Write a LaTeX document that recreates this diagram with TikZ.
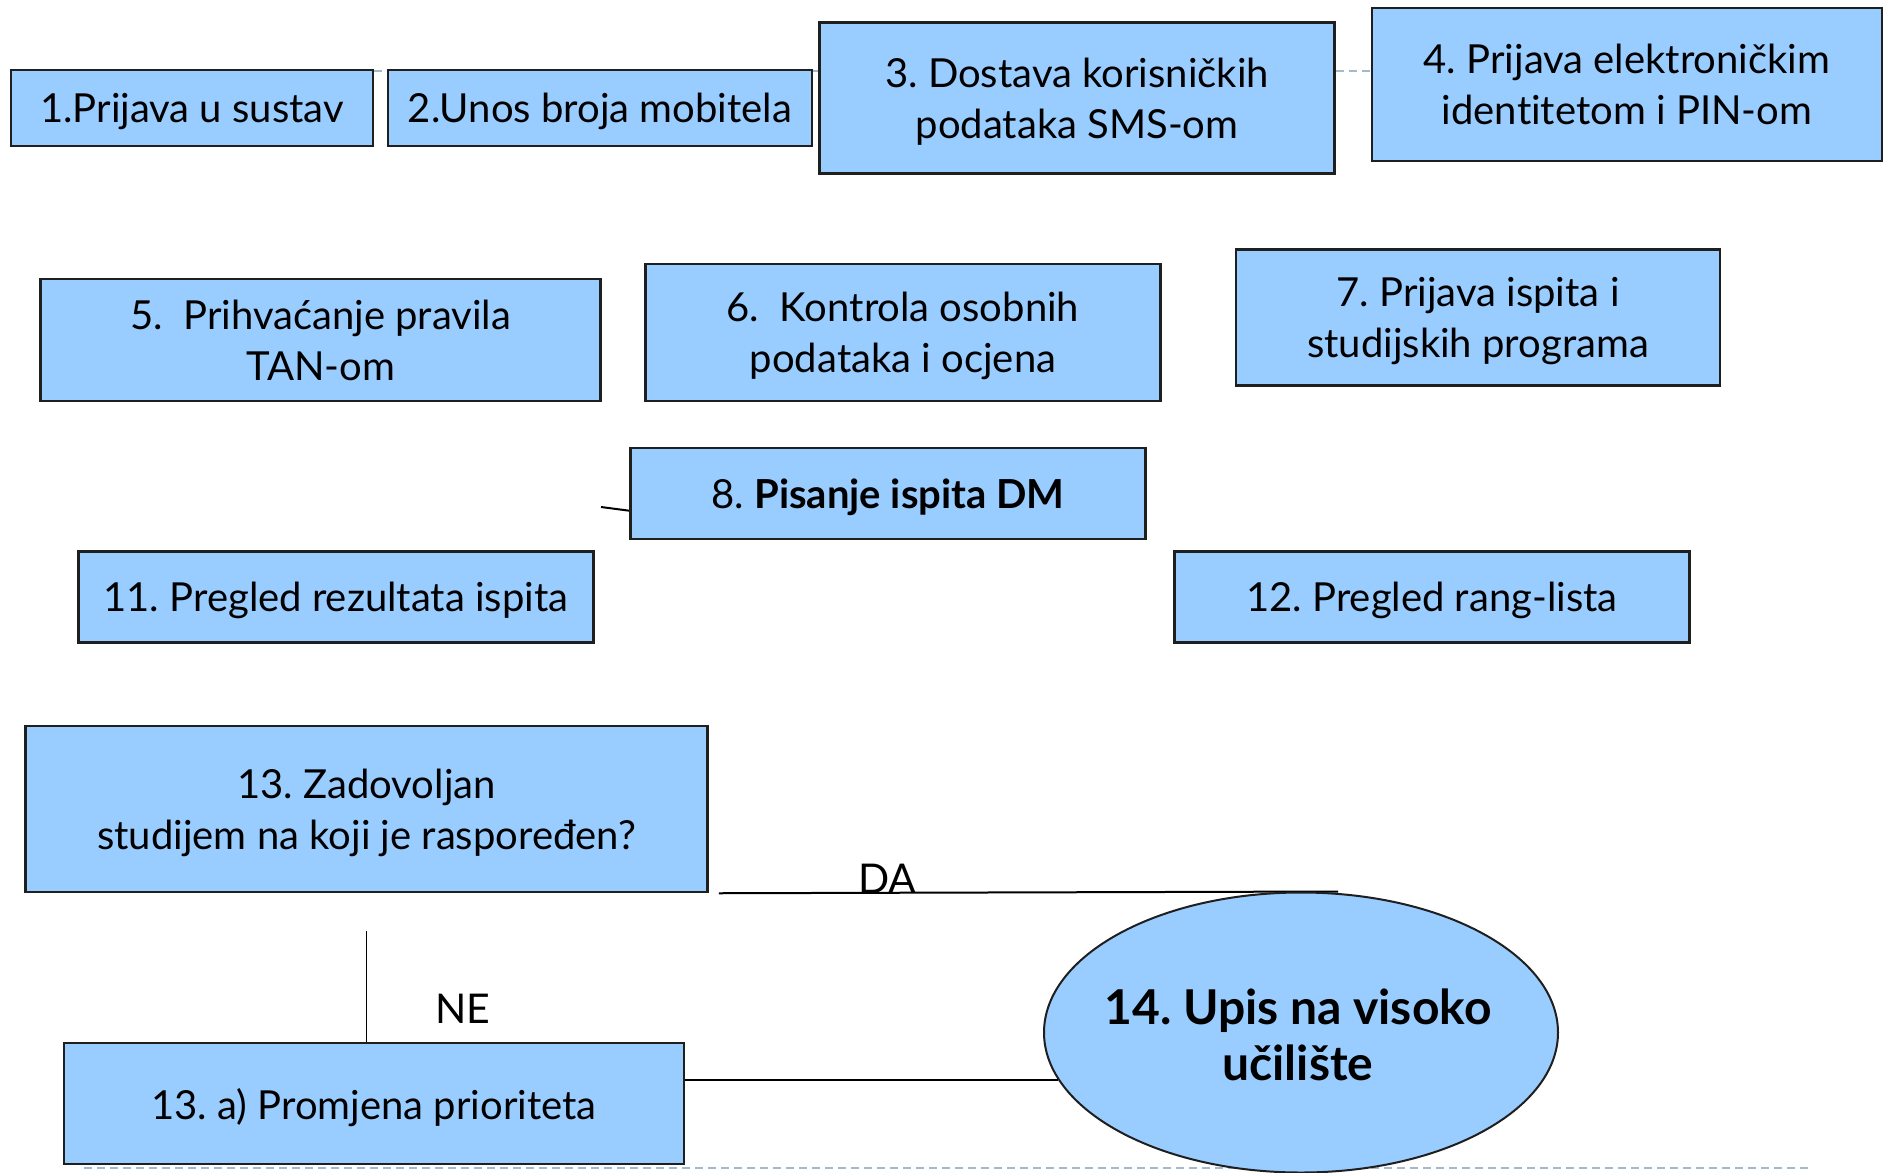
\documentclass[tikz,border=0pt]{standalone}
\usepackage{fontspec}
\setmainfont{Lato}[Ligatures=NoCommon]
\usetikzlibrary{shapes.geometric,calc}
\definecolor{boxblue}{RGB}{153,204,255}
\definecolor{dashgray}{RGB}{165,185,205}
\pgfdeclarelayer{bg}
\pgfsetlayers{bg,main}
\frenchspacing
\begin{document}
\begin{tikzpicture}[x=1pt,y=-1pt,
  stepbox/.style={draw=black!88, line width=2.5pt, fill=boxblue, align=center, inner sep=0pt,
    text depth=0pt, font=\fontsize{40}{51}\selectfont},
  goal/.style={ellipse, draw=black!88, line width=2pt, fill=boxblue, inner sep=0pt},
  goaltext/.style={align=center, inner sep=0pt, font=\fontsize{48}{56}\selectfont\bfseries},
  lbl/.style={font=\fontsize{41}{48}\selectfont, inner sep=0pt},
  conn/.style={draw=black, line width=2pt},
  thin/.style={draw=black, line width=1.5pt},
  dashc/.style={draw=dashgray, line width=2pt, dash pattern=on 8pt off 5pt}]
\useasboundingbox (0,0) rectangle (1883,1173);
\begin{pgfonlayer}{bg}
\fill[white] (0,0) rectangle (1883,1173);
\end{pgfonlayer}

% boxes
\node[stepbox, minimum width=362pt, minimum height=76pt] (b1) at (192,108) {1.Prijava u sustav};
\node[stepbox, minimum width=424pt, minimum height=76pt] (b2) at (600,108) {2.Unos broja mobitela};
\node[stepbox, minimum width=515pt, minimum height=151pt] (b3) at (1077,98) {3. Dostava korisničkih\\podataka SMS-om};
\node[stepbox, minimum width=510pt, minimum height=153pt] (b4) at (1627,84.7) {4. Prijava elektroničkim\\identitetom i PIN-om};
\node[stepbox, minimum width=560pt, minimum height=122pt] (b5) at (320.7,340) {5.~ Prihvaćanje pravila\\TAN-om};
\node[stepbox, minimum width=515pt, minimum height=137pt] (b6) at (903,332.7) {6.~ Kontrola osobnih\\podataka i ocjena};
\node[stepbox, minimum width=484pt, minimum height=136pt] (b7) at (1478,317.5) {7. Prijava ispita i\\studijskih programa};
\node[stepbox, minimum width=515pt, minimum height=91pt] (b8) at (888,493.7) {8. \textbf{Pisanje ispita DM}};
\node[stepbox, minimum width=515pt, minimum height=91pt] (b11) at (336,597) {11. Pregled rezultata ispita};
\node[stepbox, minimum width=515pt, minimum height=91pt] (b12) at (1432,597) {12. Pregled rang-lista};
\node[stepbox, minimum width=682pt, minimum height=166pt] (b13) at (366.6,809) {13. Zadovoljan\\studijem na koji je raspoređen?};
\node[stepbox, minimum width=620pt, minimum height=121pt] (b13a) at (374,1103.7) {13. a) Promjena prioriteta};

% goal ellipse
\node[goal, minimum width=514pt, minimum height=280pt] (e14) at (1301,1032.5) {};
\node[goaltext] (t14) at ($(e14.center)+(-3,2)$) {14. Upis na visoko\\učilište};

% connectors, behind the shapes
\begin{pgfonlayer}{bg}
\coordinate (r1) at (84,1168);
\coordinate (r2) at (1812,1168);
\draw[dashc] (r1) -- (r2);
\coordinate (c12) at ([yshift=-2pt]b1.north east);
\draw[dashc] (c12) -- (c12 -| b2.west);
\coordinate (c23) at (b2.east |- c12);
\draw[dashc] (c23) -- (c23 -| b3.west);
\coordinate (c34) at (b3.east |- c12);
\draw[dashc] (c34) -- (c34 -| b4.west);
\coordinate (stub) at (601,507);
\draw[conn] (stub) -- ([yshift=-17pt]b8.west);
\coordinate (da1) at ($(b13.south east)+(10,0)$);
\coordinate (da2) at ($(e14.north)+(37,0)$);
\draw[conn] (da1) -- (da2);
\coordinate (ne1) at ($(b13.south)+(0,38)$);
\draw[thin] (ne1) -- (ne1 |- b13a.north);
\draw[conn] (b13a.east |- e14.191) -- (e14.191);
\end{pgfonlayer}

% labels
\node[lbl, anchor=base] (lda) at (887.5,893) {DA};
\node[lbl, anchor=base] (lne) at (462.5,1023) {NE};
\end{tikzpicture}
\end{document}
